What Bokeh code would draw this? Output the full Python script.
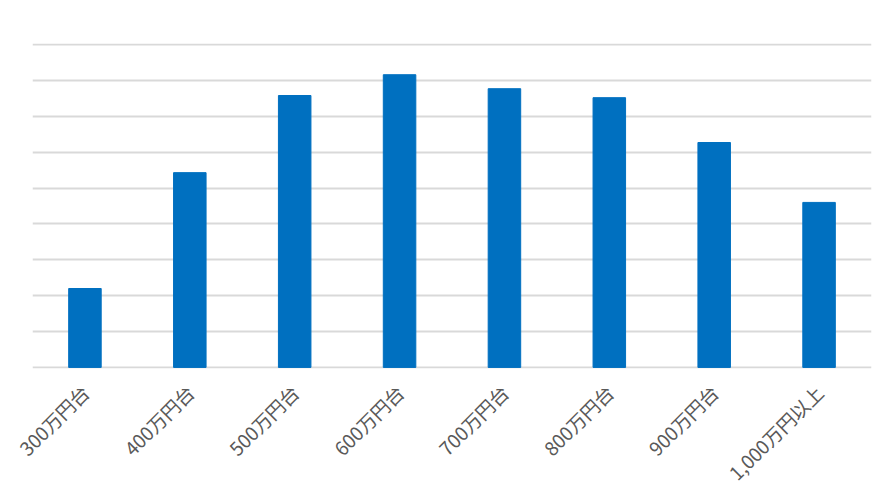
import math
from bokeh.plotting import figure
from bokeh.models import FactorRange, SingleIntervalTicker
from bokeh.embed import file_html
from bokeh.resources import INLINE

categories = ["300万円台", "400万円台", "500万円台", "600万円台",
              "700万円台", "800万円台", "900万円台", "1,000万円以上"]
values = [2.2, 5.43, 7.58, 8.16, 7.77, 7.52, 6.27, 4.6]

p = figure(x_range=FactorRange(*categories, range_padding=0), y_range=(-0.03, 9.03),
           width=894, height=501, output_backend="svg", toolbar_location=None,
           min_border_left=32, min_border_right=23, min_border_top=43, min_border_bottom=133)

p.vbar(x=categories, top=values, width=0.31, color="#0070C0")

p.yaxis.visible = False
p.yaxis.ticker = SingleIntervalTicker(interval=1)
p.ygrid.ticker = SingleIntervalTicker(interval=1)
p.ygrid.grid_line_color = "#d9d9d9"
p.ygrid.grid_line_width = 2
p.ygrid.level = "underlay"
p.xgrid.visible = False
p.outline_line_color = None

p.xaxis.axis_line_color = None
p.xaxis.major_tick_line_color = None
p.xaxis.minor_tick_line_color = None
p.xaxis.major_tick_out = 0
p.xaxis.major_label_standoff = 20
p.xaxis.major_label_orientation = math.pi / 4
p.xaxis.major_label_text_font = "Noto Sans CJK JP"
p.xaxis.major_label_text_font_size = "19px"
p.xaxis.major_label_text_color = "#595959"

open("out.html", "w").write(file_html(p, INLINE))
